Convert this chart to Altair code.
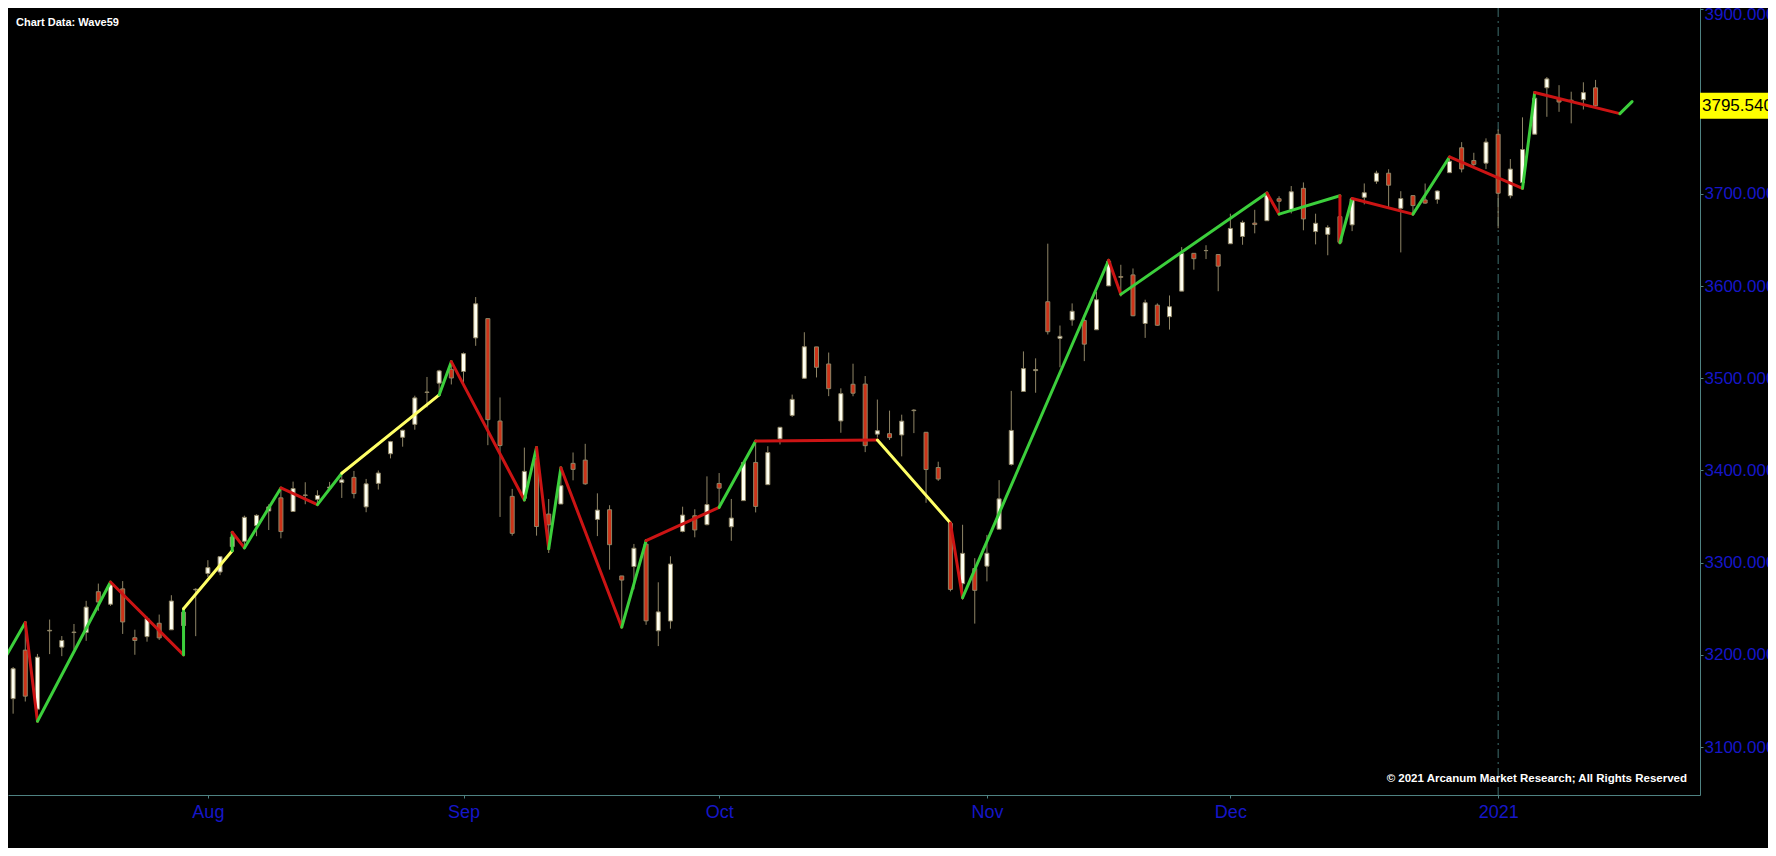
import pandas as pd
import altair as alt

# daily bars (S&P 500 cash)
dates = [
    "2020-07-10", "2020-07-13", "2020-07-14", "2020-07-15", "2020-07-16", "2020-07-17", "2020-07-20", "2020-07-21",
    "2020-07-22", "2020-07-23", "2020-07-24", "2020-07-27", "2020-07-28", "2020-07-29", "2020-07-30", "2020-07-31",
    "2020-08-03", "2020-08-04", "2020-08-05", "2020-08-06", "2020-08-07", "2020-08-10", "2020-08-11", "2020-08-12",
    "2020-08-13", "2020-08-14", "2020-08-17", "2020-08-18", "2020-08-19", "2020-08-20", "2020-08-21", "2020-08-24",
    "2020-08-25", "2020-08-26", "2020-08-27", "2020-08-28", "2020-08-31",
    "2020-09-01", "2020-09-02", "2020-09-03", "2020-09-04", "2020-09-08", "2020-09-09", "2020-09-10", "2020-09-11",
    "2020-09-14", "2020-09-15", "2020-09-16", "2020-09-17", "2020-09-18", "2020-09-21", "2020-09-22", "2020-09-23",
    "2020-09-24", "2020-09-25", "2020-09-28", "2020-09-29", "2020-09-30",
    "2020-10-01", "2020-10-02", "2020-10-05", "2020-10-06", "2020-10-07", "2020-10-08", "2020-10-09", "2020-10-12",
    "2020-10-13", "2020-10-14", "2020-10-15", "2020-10-16", "2020-10-19", "2020-10-20", "2020-10-21", "2020-10-22",
    "2020-10-23", "2020-10-26", "2020-10-27", "2020-10-28", "2020-10-29", "2020-10-30",
    "2020-11-02", "2020-11-03", "2020-11-04", "2020-11-05", "2020-11-06", "2020-11-09", "2020-11-10", "2020-11-11",
    "2020-11-12", "2020-11-13", "2020-11-16", "2020-11-17", "2020-11-18", "2020-11-19", "2020-11-20", "2020-11-23",
    "2020-11-24", "2020-11-25", "2020-11-27", "2020-11-30",
    "2020-12-01", "2020-12-02", "2020-12-03", "2020-12-04", "2020-12-07", "2020-12-08", "2020-12-09", "2020-12-10",
    "2020-12-11", "2020-12-14", "2020-12-15", "2020-12-16", "2020-12-17", "2020-12-18", "2020-12-21", "2020-12-22",
    "2020-12-23", "2020-12-24", "2020-12-28", "2020-12-29", "2020-12-30", "2020-12-31",
    "2021-01-04", "2021-01-05", "2021-01-06", "2021-01-07", "2021-01-08", "2021-01-11", "2021-01-12", "2021-01-13",
    "2021-01-14",
]
opens = [
    3152.5, 3205.1, 3141.1, 3226.0, 3208.4, 3224.2, 3224.3, 3268.5, 3254.9, 3271.6, 3218.6, 3219.8, 3234.3, 3227.2, 3231.8, 3270.5,
    3288.3, 3289.9, 3317.4, 3323.2, 3340.1, 3356.0, 3370.3, 3355.5, 3373.0, 3368.7, 3380.9, 3387.0, 3392.5, 3360.5, 3386.0, 3418.1,
    3436.0, 3450.0, 3485.1, 3494.7, 3509.7,
    3507.4, 3543.8, 3564.7, 3453.6, 3371.9, 3369.8, 3412.6, 3352.7, 3363.6, 3407.7, 3411.2, 3346.9, 3357.4, 3285.6, 3295.8, 3320.1,
    3226.1, 3236.7, 3333.9, 3350.9, 3341.2,
    3385.9, 3338.9, 3367.3, 3408.7, 3384.6, 3434.3, 3459.7, 3500.0, 3534.0, 3515.5, 3453.7, 3493.5, 3493.7, 3439.4, 3439.9, 3438.5,
    3464.9, 3441.4, 3403.2, 3342.5, 3277.2, 3293.6,
    3296.2, 3336.3, 3406.5, 3485.7, 3508.3, 3583.0, 3543.3, 3563.2, 3562.7, 3552.6, 3600.2, 3610.3, 3612.1, 3559.4, 3579.3, 3566.8,
    3594.5, 3635.5, 3638.6, 3634.2,
    3645.9, 3653.8, 3668.3, 3670.9, 3694.7, 3683.1, 3706.0, 3659.1, 3656.1, 3675.3, 3666.4, 3696.3, 3713.7, 3722.4, 3684.3, 3698.1,
    3693.4, 3694.0, 3723.0, 3750.0, 3736.2, 3733.3,
    3764.6, 3698.0, 3712.2, 3764.7, 3815.1, 3803.1, 3801.6, 3802.2, 3815.0,
]
highs = [
    3186.8, 3235.3, 3201.0, 3238.3, 3220.4, 3233.5, 3258.6, 3277.3, 3279.3, 3280.0, 3227.3, 3241.4, 3243.7, 3264.7, 3250.9, 3272.2,
    3302.7, 3306.8, 3330.8, 3351.0, 3352.5, 3363.3, 3381.0, 3387.9, 3387.2, 3378.5, 3387.6, 3395.1, 3399.5, 3390.8, 3400.0, 3432.1,
    3444.2, 3481.1, 3501.4, 3509.2, 3514.8,
    3528.0, 3588.1, 3564.9, 3479.2, 3380.0, 3424.8, 3425.6, 3369.0, 3402.9, 3419.5, 3428.9, 3375.2, 3362.3, 3285.6, 3320.3, 3323.4,
    3278.7, 3306.9, 3360.7, 3357.9, 3393.6,
    3397.2, 3369.1, 3409.6, 3431.6, 3426.3, 3447.3, 3482.3, 3549.9, 3534.0, 3527.9, 3489.1, 3515.8, 3502.4, 3476.9, 3464.9, 3460.5,
    3466.5, 3441.4, 3409.5, 3342.5, 3341.1, 3304.9,
    3330.1, 3389.5, 3486.3, 3529.1, 3521.6, 3646.0, 3557.2, 3581.2, 3569.0, 3593.7, 3628.5, 3623.1, 3619.1, 3585.2, 3581.2, 3589.8,
    3642.3, 3635.5, 3644.3, 3634.2,
    3678.5, 3671.0, 3682.7, 3699.2, 3697.4, 3708.5, 3712.4, 3678.5, 3665.9, 3697.6, 3695.3, 3711.3, 3725.1, 3726.7, 3702.9, 3698.3,
    3711.2, 3703.8, 3740.5, 3756.1, 3744.6, 3760.2,
    3770.0, 3737.8, 3783.0, 3811.6, 3826.7, 3817.9, 3810.8, 3821.0, 3823.6,
]
lows = [
    3136.2, 3149.4, 3127.7, 3200.8, 3198.6, 3205.7, 3215.2, 3247.8, 3253.1, 3222.7, 3200.1, 3214.3, 3216.2, 3227.2, 3204.1, 3220.3,
    3284.5, 3286.4, 3317.4, 3318.1, 3328.7, 3335.4, 3326.4, 3355.5, 3363.4, 3361.6, 3379.2, 3370.2, 3369.7, 3354.7, 3379.3, 3413.1,
    3425.8, 3444.2, 3468.4, 3484.3, 3493.3,
    3494.6, 3535.2, 3427.4, 3349.6, 3329.3, 3366.8, 3329.3, 3310.5, 3363.6, 3389.3, 3384.5, 3328.8, 3292.4, 3229.1, 3271.0, 3232.6,
    3209.5, 3228.4, 3332.9, 3327.5, 3340.5,
    3361.4, 3323.7, 3367.3, 3354.5, 3384.6, 3428.2, 3458.1, 3499.6, 3500.9, 3480.6, 3440.9, 3480.5, 3419.9, 3435.7, 3433.1, 3415.3,
    3440.5, 3364.9, 3388.7, 3268.9, 3259.8, 3233.9,
    3279.7, 3336.3, 3405.2, 3485.7, 3484.3, 3547.5, 3511.9, 3557.0, 3518.6, 3552.6, 3600.2, 3588.7, 3567.3, 3543.8, 3556.9, 3552.8,
    3594.5, 3617.8, 3629.3, 3594.4,
    3645.9, 3644.8, 3657.2, 3670.9, 3678.9, 3678.8, 3660.5, 3645.2, 3633.4, 3645.8, 3659.6, 3688.6, 3710.9, 3685.8, 3636.5, 3676.2,
    3689.3, 3689.3, 3723.0, 3723.3, 3730.2, 3726.9,
    3662.7, 3695.1, 3705.3, 3764.7, 3783.6, 3789.0, 3776.5, 3791.5, 3792.9,
]
closes = [
    3185.0, 3155.2, 3197.5, 3226.6, 3215.6, 3224.7, 3251.8, 3257.3, 3276.0, 3235.7, 3215.6, 3239.4, 3218.4, 3258.4, 3246.2, 3271.1,
    3294.6, 3306.5, 3327.8, 3349.2, 3351.3, 3360.5, 3333.7, 3380.4, 3373.4, 3372.9, 3382.0, 3389.8, 3374.9, 3385.5, 3397.2, 3431.3,
    3443.6, 3478.7, 3484.6, 3508.0, 3500.3,
    3526.7, 3580.8, 3455.1, 3427.0, 3331.8, 3399.0, 3339.2, 3341.0, 3383.5, 3401.2, 3385.5, 3357.0, 3319.5, 3281.1, 3315.6, 3236.9,
    3246.6, 3298.5, 3351.6, 3335.5, 3363.0,
    3380.8, 3348.4, 3408.6, 3361.0, 3419.4, 3446.8, 3477.1, 3534.2, 3511.9, 3488.7, 3483.3, 3483.8, 3426.9, 3443.1, 3435.6, 3453.5,
    3465.4, 3401.0, 3390.7, 3271.0, 3310.1, 3270.0,
    3310.2, 3369.2, 3443.4, 3510.5, 3509.4, 3550.5, 3545.5, 3572.7, 3537.0, 3585.2, 3626.9, 3609.5, 3567.8, 3581.9, 3557.5, 3577.6,
    3635.4, 3629.7, 3638.4, 3621.6,
    3662.5, 3669.0, 3666.7, 3699.1, 3692.0, 3702.3, 3672.8, 3668.1, 3663.5, 3647.5, 3694.6, 3701.2, 3722.5, 3709.4, 3694.9, 3687.3,
    3690.0, 3703.1, 3735.4, 3727.0, 3732.0, 3756.1,
    3700.7, 3726.9, 3748.1, 3803.8, 3824.7, 3799.6, 3801.2, 3809.8, 3795.54,
]

# wave59 zigzag: pivots as bar numbers (0 = first bar above, may run past the data)
wave_bars = [-3, 1, 2, 8, 14, 14, 18, 18, 19, 22, 25, 27, 35, 36, 42, 43, 44, 45, 50,
             52, 58, 61, 71, 77, 78, 90, 91, 103, 104, 109, 109, 110, 115, 118, 124, 125, 132, 133]
wave_prices = [3143, 3235, 3128, 3279, 3200, 3250, 3313, 3333, 3316, 3381, 3363, 3397, 3482, 3518, 3368, 3425, 3315, 3403, 3230,
               3324, 3360, 3432, 3433, 3343, 3262, 3628, 3591, 3701, 3678, 3698, 3647, 3695, 3678, 3740, 3706, 3810, 3787, 3800]
# type of each leg between two pivots
wave_legs = ["up", "down", "up", "down", "up", "side", "up", "down", "up", "down", "up", "side", "up",
             "down", "up", "down", "up", "down", "up", "down", "up", "down", "side", "down", "up",
             "down", "up", "down", "up", "down", "up", "down", "up", "down", "up", "down", "up"]

month_dates = ["2020-08-03", "2020-09-01", "2020-10-01", "2020-11-02", "2020-12-01", "2021-01-04"]
month_labels = ["Aug", "Sep", "Oct", "Nov", "Dec", "2021"]
# 3800 sits under the last-price box, so it is not labelled
price_ticks = [3100, 3200, 3300, 3400, 3500, 3600, 3700, 3900]
last_close = 3795.54
year_start = "2021-01-04"

FONT = "Liberation Sans"
BLUE = "#1616c8"
AXIS = "#4e8282"
WICK = "#8f8566"


def getBars():
    df = pd.DataFrame({"date": dates, "open": opens, "high": highs, "low": lows, "close": closes})
    df["bar"] = range(len(df))
    df["dir"] = ["up" if c >= o else "down" for o, c in zip(opens, closes)]
    return df


def getWaves():
    rows = []
    for k, leg in enumerate(wave_legs):
        for j in (k, k + 1):
            rows.append({"seg": k, "ord": j, "bar": wave_bars[j], "price": wave_prices[j], "leg": leg})
    return pd.DataFrame(rows)


df = getBars()
waves = getWaves()
month_pos = [dates.index(d) for d in month_dates]
label_expr = " : ".join(f"datum.value == {p} ? '{l}'" for p, l in zip(month_pos, month_labels)) + " : ''"

W, H = 1692, 787
x_scale = alt.Scale(domain=[-0.01, 138.17], nice=False, zero=False)
y_scale = alt.Scale(domain=[3048.0, 3901.6], nice=False, zero=False)

x_axis = alt.Axis(values=month_pos, labelExpr=label_expr, title=None, grid=False,
                  domainColor=AXIS, tickColor=AXIS, tickSize=3, labelPadding=5,
                  labelColor=BLUE, labelFont=FONT, labelFontSize=18, labelOverlap=False, labelFlush=False)
# the top label would be cut by the page edge, push it down a little
y_axis = alt.Axis(orient="right", values=price_ticks, format=".3f", title=None, grid=False,
                  domainColor=AXIS, tickColor=AXIS, tickSize=3, labelPadding=1, labelAlign="left",
                  labelBaseline="middle", labelColor=BLUE, labelFont=FONT, labelFontSize=17,
                  labelOffset={"condition": {"test": f"datum.value == {max(price_ticks)}", "value": 5}, "value": 0},
                  labelOverlap=False, labelFlush=False)

divider = alt.Chart(pd.DataFrame({"bar": [dates.index(year_start)]})).mark_rule(
    color="#3f7070", strokeWidth=1, strokeDash=[9, 4, 2, 4]
).encode(x=alt.X("bar:Q", scale=x_scale, axis=x_axis))

wicks = alt.Chart(df).mark_rule(color=WICK, strokeWidth=1, clip=True).encode(
    x=alt.X("bar:Q", scale=x_scale, axis=x_axis),
    y=alt.Y("low:Q", scale=y_scale, axis=y_axis),
    y2="high:Q",
)

bodies = alt.Chart(df).mark_bar(size=4, stroke=WICK, strokeWidth=1, clip=True).encode(
    x=alt.X("bar:Q", scale=x_scale),
    y=alt.Y("open:Q", scale=y_scale),
    y2="close:Q",
    color=alt.Color("dir:N", scale=alt.Scale(domain=["up", "down"], range=["#fffff0", "#cc3318"]), legend=None),
)

zigzag = alt.Chart(waves).mark_line(strokeCap="round", strokeJoin="round", clip=True).encode(
    x=alt.X("bar:Q", scale=x_scale),
    y=alt.Y("price:Q", scale=y_scale),
    detail="seg:N",
    order="ord:Q",
    color=alt.Color("leg:N", scale=alt.Scale(domain=["up", "down", "side"],
                                             range=["#3ccf3c", "#cc1414", "#ffff66"]), legend=None),
    strokeWidth=alt.StrokeWidth("leg:N", scale=alt.Scale(domain=["up", "down", "side"], range=[3, 3, 2]),
                                legend=None),
)

last = pd.DataFrame({"p": [last_close]})
price_box = alt.Chart(last).mark_rect(color="#ffff00", yOffset=-13, y2Offset=13).encode(
    x=alt.value(W), x2=alt.value(W + 100),
    y=alt.Y("p:Q", scale=y_scale), y2="p:Q",
)
price_text = alt.Chart(last).mark_text(align="left", baseline="middle", font=FONT, fontSize=17, color="#000000").encode(
    x=alt.value(W + 2), y=alt.Y("p:Q", scale=y_scale), text=alt.Text("p:Q", format=".3f"),
)

notes = pd.DataFrame({"t": [0]})
source = alt.Chart(notes).mark_text(text="Chart Data: Wave59", align="left", baseline="middle",
                                    font=FONT, fontSize=11, fontWeight="bold", color="#ffffff").encode(
    x=alt.value(8), y=alt.value(15))
copyright = alt.Chart(notes).mark_text(text="© 2021 Arcanum Market Research; All Rights Reserved", align="right",
                                       baseline="middle", font=FONT, fontSize=11.5, fontWeight="bold",
                                       color="#ffffff").encode(
    x=alt.value(1679), y=alt.value(771))

chart = alt.layer(
    divider, wicks, bodies, zigzag, price_box, price_text, source, copyright
).resolve_scale(
    color="independent"
).properties(
    width=W, height=H,
    padding={"left": 0, "top": 0, "right": 68, "bottom": 53},
    autosize=alt.AutoSizeParams(type="none"),
    background="#000000",
).configure_view(
    stroke=None,
)

chart.save("out.html", embed_options={"renderer": "svg", "actions": False})
